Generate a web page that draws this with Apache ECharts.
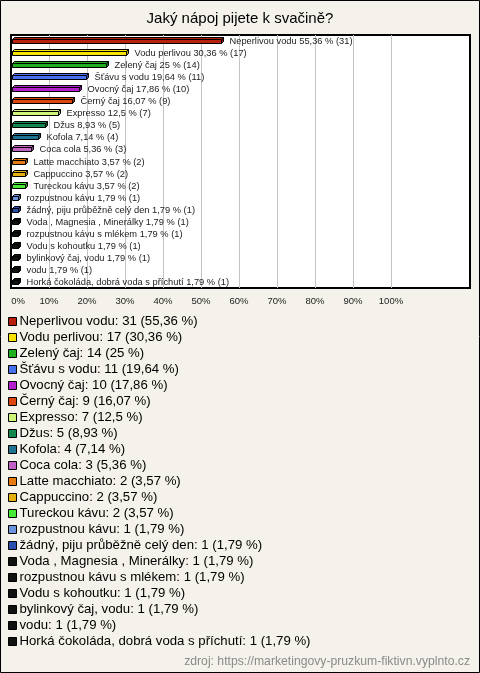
<!DOCTYPE html>
<html><head><meta charset="utf-8">
<script src="https://cdn.jsdelivr.net/npm/echarts@6/dist/echarts.min.js"></script>
<style>html,body{margin:0;padding:0;background:#f4f2ea;}#c{width:480px;height:673px;}</style>
</head><body><div id="c"></div>
<script>
const categories = [
  'Neperlivou vodu', 'Vodu perlivou', 'Zelený čaj', 'Šťávu s vodu', 'Ovocný čaj',
  'Černý čaj', 'Expresso', 'Džus', 'Kofola', 'Coca cola', 'Latte macchiato',
  'Cappuccino', 'Tureckou kávu', 'rozpustnou kávu', 'žádný, piju průběžně celý den',
  'Voda , Magnesia , Minerálky', 'rozpustnou kávu s mlékem', 'Vodu s kohoutku',
  'bylinkový čaj, vodu', 'vodu', 'Horká čokoláda, dobrá voda s příchutí'
];
const counts = [31, 17, 14, 11, 10, 9, 7, 5, 4, 3, 2, 2, 2, 1, 1, 1, 1, 1, 1, 1, 1];
const percents = [55.36, 30.36, 25, 19.64, 17.86, 16.07, 12.5, 8.93, 7.14, 5.36, 3.57, 3.57, 3.57,
  1.79, 1.79, 1.79, 1.79, 1.79, 1.79, 1.79, 1.79];
const xTickLabels = ['0%', '10%', '20%', '30%', '40%', '50%', '60%', '70%', '80%', '90%', '100%'];
const titleText = 'Jaký nápoj pijete k svačině?';
const sourceText = 'zdroj: https://marketingovy-pruzkum-fiktivn.vyplnto.cz';

const palette = ['#b8200e', '#f7e300', '#1fb01f', '#4670ec', '#b51ecf', '#dc4610', '#ccf57a',
  '#12884f', '#1f7390', '#c25fc2', '#e57a10', '#e4b010', '#46ea36', '#6a95de', '#2a4fae',
  '#111111', '#111111', '#111111', '#111111', '#111111', '#111111'];

const fmt = v => String(v).replace('.', ',');
const FONT = 'Liberation Sans, Arial, sans-serif';

function darken(hex, f) {
  const n = parseInt(hex.slice(1), 16);
  const r = Math.round(((n >> 16) & 255) * f), g = Math.round(((n >> 8) & 255) * f), b = Math.round((n & 255) * f);
  return 'rgb(' + r + ',' + g + ',' + b + ')';
}

const chart = echarts.init(document.getElementById('c'), null, {renderer: 'canvas'});

const series = categories.map((name, i) => ({
  name: name,
  type: 'custom',
  data: [[i, percents[i]]],
  encode: {x: 1, y: 0},
  itemStyle: {color: palette[i]},
  silent: true,
  renderItem: (params, api) => {
    const cat = api.value(0);
    const val = api.value(1);
    const s = api.coord([0, cat]);
    const e = api.coord([val, cat]);
    const x0 = Math.round(s[0]) + 1.5, x1 = Math.round(e[0]) + 0.5;
    const cy = Math.round(s[1]);
    const yT = cy - 1.5, yB = cy + 2.5, d = 2;
    const col = palette[i];
    const st = {stroke: '#000', lineWidth: 1};
    return {
      type: 'group',
      children: [
        {type: 'polygon', shape: {points: [[x0, yT], [x1, yT], [x1 + d, yT - d], [x0 + d, yT - d]]},
          style: Object.assign({fill: col}, st)},
        {type: 'polygon', shape: {points: [[x1, yT], [x1 + d, yT - d], [x1 + d, yB - d], [x1, yB]]},
          style: Object.assign({fill: darken(col, 0.7)}, st)},
        {type: 'rect', shape: {x: x0, y: yT, width: x1 - x0, height: yB - yT},
          style: Object.assign({fill: col}, st)},
        {type: 'text', x: x1 + d + 6, y: cy,
          style: {text: `${name} ${fmt(percents[i])} % (${counts[i]})`, fill: '#222',
            font: '9.3px ' + FONT, verticalAlign: 'middle', align: 'left'}}
      ]
    };
  }
}));

chart.setOption({
  backgroundColor: '#f4f2ea',
  animation: false,
  title: [
    {text: titleText, left: 'center', top: 11, padding: 0,
     textStyle: {fontFamily: FONT, fontSize: 15, fontWeight: 'normal', color: '#000'}},
    {text: sourceText, right: 10, top: 656, padding: 0,
     textStyle: {fontFamily: FONT, fontSize: 12.2, fontWeight: 'normal', color: '#8a8a8a'}}
  ],
  graphic: [{type: 'rect', shape: {x: 0.5, y: 0.5, width: 479, height: 672},
    style: {fill: 'none', stroke: '#000', lineWidth: 1}, silent: true, z: 100}],
  grid: {left: 11, right: 10, top: 35, height: 253, show: true,
    backgroundColor: '#fff', borderColor: '#000', borderWidth: 2},
  xAxis: {
    type: 'value', min: 0, max: 120.8, interval: 10,
    axisLine: {show: false}, axisTick: {show: false},
    axisLabel: {
      margin: 8, fontFamily: FONT, fontSize: 9.5, color: '#222', showMaxLabel: false,
      formatter: v => {
        const idx = Math.round(v / 10);
        if (v > 100 || idx >= xTickLabels.length) return '';
        return idx === 0 ? '{z|' + xTickLabels[0] + '}' : xTickLabels[idx];
      },
      rich: {z: {fontFamily: FONT, fontSize: 9.5, color: '#222', padding: [0, 0, 0, 14]}}
    },
    splitLine: {show: true, showMinLine: false, showMaxLine: false,
      lineStyle: {width: 1, color: ['#c4c4c4', '#c4c4c4', '#c4c4c4', '#c4c4c4', '#c4c4c4',
        '#c4c4c4', '#c4c4c4', '#c4c4c4', '#c4c4c4', '#c4c4c4', 'rgba(0,0,0,0)', 'rgba(0,0,0,0)', 'rgba(0,0,0,0)']}}
  },
  yAxis: {
    type: 'category', data: categories, inverse: true,
    axisLine: {show: false}, axisTick: {show: false}, axisLabel: {show: false}, splitLine: {show: false}
  },
  legend: {
    orient: 'vertical', left: 8, top: 315, padding: 0,
    itemWidth: 8, itemHeight: 8, itemGap: 3,
    icon: 'rect',
    itemStyle: {borderColor: '#000', borderWidth: 1},
    textStyle: {fontFamily: FONT, fontSize: 13.2, color: '#000', padding: [0, 0, 0, -2]},
    formatter: name => {
      const i = categories.indexOf(name);
      return `${name}: ${counts[i]} (${fmt(percents[i])} %)`;
    },
    data: categories
  },
  series: series
});
</script>
</body></html>
